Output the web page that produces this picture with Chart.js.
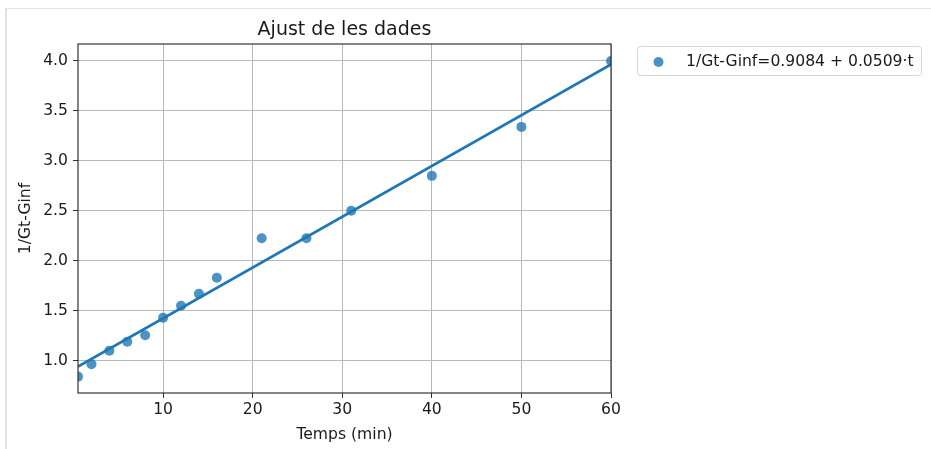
<!DOCTYPE html>
<html>
<head>
<meta charset="utf-8">
<script src="https://cdn.jsdelivr.net/npm/chart.js@4.4.0/dist/chart.umd.min.js"></script>
<style>
  html, body { margin: 0; padding: 0; background: #fff; }
  #marc { position: absolute; left: 5px; top: 8px; right: 0; bottom: 0; border-top: 1.5px solid #e2e2e2; border-left: 2px solid #e2e2e2; }
  #caixa { position: absolute; left: 0; top: 0; width: 931px; height: 449px; }
</style>
</head>
<body>
<div id="marc"></div>
<div id="caixa"><canvas id="grafic" width="931" height="449"></canvas></div>
<script>
// Dades llegides del gràfic
const temps = [0.5, 2, 4, 6, 8, 10, 12, 14, 16, 21, 26, 31, 40, 50, 60];
const invG = [0.84, 0.965, 1.10, 1.19, 1.255, 1.43, 1.55, 1.67, 1.83, 2.225, 2.225, 2.50, 2.85, 3.34, 4.0];
// extrems de la recta d'ajust
const ajustT = [0.5, 60];
const ajustY = [0.94, 3.965];
const ticksX = [10, 20, 30, 40, 50, 60];
const ticksY = [1.0, 1.5, 2.0, 2.5, 3.0, 3.5, 4.0];

const titol = "Ajust de les dades";
const etiquetaX = "Temps (min)";
const etiquetaY = "1/Gt-Ginf";
const etiquetaLlegenda = "1/Gt-Ginf=0.9084 + 0.0509·t";

const blau = "#1f77b4";
const blauPunts = "rgba(31,119,180,0.8)";
const colorText = "#1a1a1a";
const midaFont = 15.6;
const midaTitol = 19;

Chart.defaults.font.family = "'DejaVu Sans', sans-serif";
Chart.defaults.color = colorText;

// marc dels eixos, títol i llegenda a l'estil matplotlib
const extres = {
  id: "extres",
  afterDatasetsDraw(chart) {
    const { ctx, chartArea: a } = chart;
    ctx.save();
    ctx.strokeStyle = "#222";
    ctx.lineWidth = 1.1;
    ctx.strokeRect(a.left, a.top, a.right - a.left, a.bottom - a.top);
    ctx.restore();
  },
  afterDraw(chart) {
    const { ctx, chartArea: a } = chart;
    ctx.save();
    ctx.fillStyle = colorText;
    ctx.font = midaTitol + "px 'DejaVu Sans'";
    ctx.textAlign = "center";
    ctx.textBaseline = "alphabetic";
    ctx.fillText(titol, (a.left + a.right) / 2, 35);

    // llegenda
    const lx = 637, ly = 46, lw = 284, lh = 29;
    ctx.beginPath();
    ctx.roundRect(lx + 0.5, ly + 0.5, lw, lh, 3);
    ctx.fillStyle = "rgba(255,255,255,0.8)";
    ctx.fill();
    ctx.strokeStyle = "#d6d6d6";
    ctx.lineWidth = 1;
    ctx.stroke();
    ctx.beginPath();
    ctx.arc(658.5, 62, 5, 0, Math.PI * 2);
    ctx.fillStyle = blauPunts;
    ctx.fill();
    ctx.fillStyle = colorText;
    ctx.font = midaFont + "px 'DejaVu Sans'";
    ctx.textAlign = "left";
    ctx.textBaseline = "middle";
    ctx.fillText(chart.data.datasets[1].label, 686, 61.5);
    ctx.restore();
  }
};

new Chart(document.getElementById("grafic"), {
  type: "scatter",
  data: {
    datasets: [
      {
        type: "line",
        label: "ajust",
        data: ajustT.map((t, i) => ({ x: t, y: ajustY[i] })),
        borderColor: blau,
        borderWidth: 2.8,
        pointRadius: 0,
        fill: false,
        clip: 0,
        order: 0
      },
      {
        label: etiquetaLlegenda,
        data: temps.map((t, i) => ({ x: t, y: invG[i] })),
        backgroundColor: blauPunts,
        borderWidth: 0,
        pointRadius: 5,
        clip: 0,
        order: 1
      }
    ]
  },
  options: {
    responsive: false,
    animation: false,
    devicePixelRatio: 1,
    layout: { padding: { top: 44, right: 320, left: 0, bottom: 0 } },
    plugins: {
      legend: { display: false },
      tooltip: { enabled: false }
    },
    scales: {
      x: {
        type: "linear",
        min: 0.5,
        max: 60,
        afterBuildTicks: s => { s.ticks = ticksX.map(v => ({ value: v })); },
        afterFit: s => { s.height = 56; },
        grid: { color: "#b8b8b8", lineWidth: 1, tickColor: "#333", tickLength: 5 },
        border: { display: false },
        ticks: { font: { size: midaFont }, color: colorText, padding: 3, maxRotation: 0, autoSkip: false, callback: v => String(v) },
        title: { display: true, text: etiquetaX, font: { size: midaFont }, color: colorText, padding: { top: 0, bottom: 4.5 } }
      },
      y: {
        type: "linear",
        min: 0.676,
        max: 4.17,
        afterBuildTicks: s => { s.ticks = ticksY.map(v => ({ value: v })); },
        afterFit: s => { s.width = 78; },
        grid: { color: "#b8b8b8", lineWidth: 1, tickColor: "#333", tickLength: 5 },
        border: { display: false },
        ticks: { font: { size: midaFont }, color: colorText, padding: 5, autoSkip: false, callback: v => v.toFixed(1) },
        title: { display: true, text: etiquetaY, font: { size: midaFont }, color: colorText, padding: { top: 17, bottom: 0 } }
      }
    }
  },
  plugins: [extres]
});
</script>
</body>
</html>
